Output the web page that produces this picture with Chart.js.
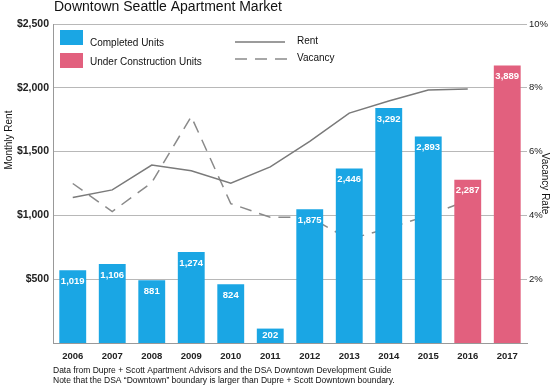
<!DOCTYPE html>
<html>
<head>
<meta charset="utf-8">
<script src="https://cdn.jsdelivr.net/npm/chart.js@4/dist/chart.umd.min.js"></script>
<style>
  html, body { margin: 0; padding: 0; background: #fff; }
  #wrap { width: 551px; height: 389px; position: relative; }
</style>
</head>
<body>
<div id="wrap"><canvas id="marketChart" width="551" height="389"></canvas></div>
<script>
// Data
const years = ['2006', '2007', '2008', '2009', '2010', '2011', '2012', '2013', '2014', '2015', '2016', '2017'];
const completedUnits = [1019, 1106, 881, 1274, 824, 202, 1875, 2446, 3292, 2893, null, null];
const underConstruction = [null, null, null, null, null, null, null, null, null, null, 2287, 3889];
const rent = [1140, 1200, 1395, 1350, 1252, 1380, 1580, 1802, 1897, 1983, 1990, null];
const vacancy = [5.0, 4.12, 5.03, 7.1, 4.37, 3.94, 3.94, 3.25, 3.6, 4.0, 4.47, null];

const rentTicks = [0, 500, 1000, 1500, 2000, 2500];
const vacancyTicks = [0, 2, 4, 6, 8, 10];

const titleText = 'Downtown Seattle Apartment Market';
const notes = [
    'Data from Dupre + Scott Apartment Advisors and the DSA Downtown Development Guide',
    'Note that the DSA \u201CDowntown\u201D boundary is larger than Dupre + Scott Downtown boundary.'
];

const blue = '#1aa6e4';
const pink = '#e2607e';
const lineGray = '#7a7a7a';
const dashGray = '#8a8a8a';
const FONT = '"Liberation Sans", Arial, sans-serif';

// Title, legend, axis titles, footnote and bar labels
const decor = {
    id: 'decor',
    afterDatasetsDraw(chart) {
        const ctx = chart.ctx;
        ctx.save();
        ctx.font = 'bold 9.5px ' + FONT;
        ctx.textAlign = 'center';
        ctx.textBaseline = 'middle';
        ctx.fillStyle = '#fff';
        [0, 1].forEach(di => {
            const meta = chart.getDatasetMeta(di);
            const vals = chart.data.datasets[di].data;
            meta.data.forEach((bar, i) => {
                if (vals[i] == null) return;
                const h = bar.base - bar.y;
                const y = h < 24 ? bar.y + h / 2 : bar.y + 11;
                ctx.fillText(vals[i].toLocaleString('en-US'), bar.x, y);
            });
        });
        ctx.restore();
    },
    afterDraw(chart) {
        const ctx = chart.ctx;
        const area = chart.chartArea;
        ctx.save();

        // title
        ctx.fillStyle = '#111';
        ctx.font = '14px ' + FONT;
        ctx.textBaseline = 'middle';
        ctx.textAlign = 'left';
        ctx.fillText(titleText, 54, 7);

        // legend
        ctx.fillStyle = blue;
        ctx.fillRect(60, 30, 23, 15);
        ctx.fillStyle = pink;
        ctx.fillRect(60, 53, 23, 15);
        ctx.fillStyle = '#111';
        ctx.font = '10px ' + FONT;
        ctx.fillText('Completed Units', 90, 43);
        ctx.fillText('Under Construction Units', 90, 62);
        ctx.fillText('Rent', 297, 41);
        ctx.fillText('Vacancy', 297, 58);

        ctx.lineWidth = 1.5;
        ctx.strokeStyle = lineGray;
        ctx.beginPath();
        ctx.moveTo(235, 42);
        ctx.lineTo(285, 42);
        ctx.stroke();
        ctx.strokeStyle = dashGray;
        ctx.setLineDash([12, 8]);
        ctx.beginPath();
        ctx.moveTo(235, 59);
        ctx.lineTo(287, 59);
        ctx.stroke();
        ctx.setLineDash([]);

        // axis titles
        ctx.font = '10px ' + FONT;
        ctx.textAlign = 'center';
        ctx.save();
        ctx.translate(9, 140);
        ctx.rotate(-Math.PI / 2);
        ctx.fillText('Monthly Rent', 0, 0);
        ctx.restore();
        ctx.save();
        ctx.translate(545, (area.top + area.bottom) / 2);
        ctx.rotate(Math.PI / 2);
        ctx.fillText('Vacancy Rate', 0, 0);
        ctx.restore();

        // footnote
        ctx.textAlign = 'left';
        ctx.font = '8.5px ' + FONT;
        ctx.fillText(notes[0], 53, 371);
        ctx.fillText(notes[1], 53, 381);

        ctx.restore();
    }
};

const ctx = document.getElementById('marketChart').getContext('2d');

new Chart(ctx, {
    data: {
        labels: years,
        datasets: [
            {
                type: 'bar',
                label: 'Completed Units',
                data: completedUnits,
                backgroundColor: blue,
                yAxisID: 'units',
                grouped: false,
                barPercentage: 0.68,
                categoryPercentage: 1,
                order: 1
            },
            {
                type: 'bar',
                label: 'Under Construction Units',
                data: underConstruction,
                backgroundColor: pink,
                yAxisID: 'units',
                grouped: false,
                barPercentage: 0.68,
                categoryPercentage: 1,
                order: 1
            },
            {
                type: 'line',
                label: 'Rent',
                data: rent,
                borderColor: lineGray,
                borderWidth: 1.5,
                pointRadius: 0,
                tension: 0,
                yAxisID: 'y',
                order: 2
            },
            {
                type: 'line',
                label: 'Vacancy',
                data: vacancy,
                borderColor: dashGray,
                borderWidth: 1.5,
                borderDash: [12, 8],
                pointRadius: 0,
                tension: 0,
                yAxisID: 'y1',
                order: 2
            }
        ]
    },
    options: {
        responsive: false,
        animation: false,
        layout: { padding: { top: 24, bottom: 24, left: 0, right: 0 } },
        plugins: {
            legend: { display: false },
            tooltip: { enabled: false }
        },
        scales: {
            x: {
                grid: { display: false, drawTicks: false },
                border: { color: '#999' },
                ticks: {
                    color: '#222',
                    font: { family: FONT, size: 9.5, weight: 'bold' },
                    padding: 8,
                    maxRotation: 0
                },
                afterFit: s => { s.height = 22; }
            },
            y: {
                position: 'left',
                min: 0,
                max: 2500,
                afterBuildTicks: s => { s.ticks = rentTicks.map(v => ({ value: v })); },
                ticks: {
                    color: '#222',
                    font: { family: FONT, size: 10.5, weight: 'bold' },
                    padding: 4,
                    callback: v => v === 0 ? '' : '$' + v.toLocaleString('en-US')
                },
                grid: { color: '#b8b8b8', drawTicks: false },
                border: { color: '#999' },
                afterFit: s => { s.width = 53; }
            },
            y1: {
                position: 'right',
                min: 0,
                max: 10,
                afterBuildTicks: s => { s.ticks = vacancyTicks.map(v => ({ value: v })); },
                ticks: {
                    color: '#222',
                    font: { family: FONT, size: 9.5 },
                    padding: 2,
                    callback: v => v === 0 ? '' : v + '%'
                },
                grid: { drawOnChartArea: false, drawTicks: false },
                border: { display: false },
                afterFit: s => { s.width = 24; }
            },
            units: {
                display: false,
                min: 0,
                max: 4470
            }
        }
    },
    plugins: [decor]
});
</script>
</body>
</html>
